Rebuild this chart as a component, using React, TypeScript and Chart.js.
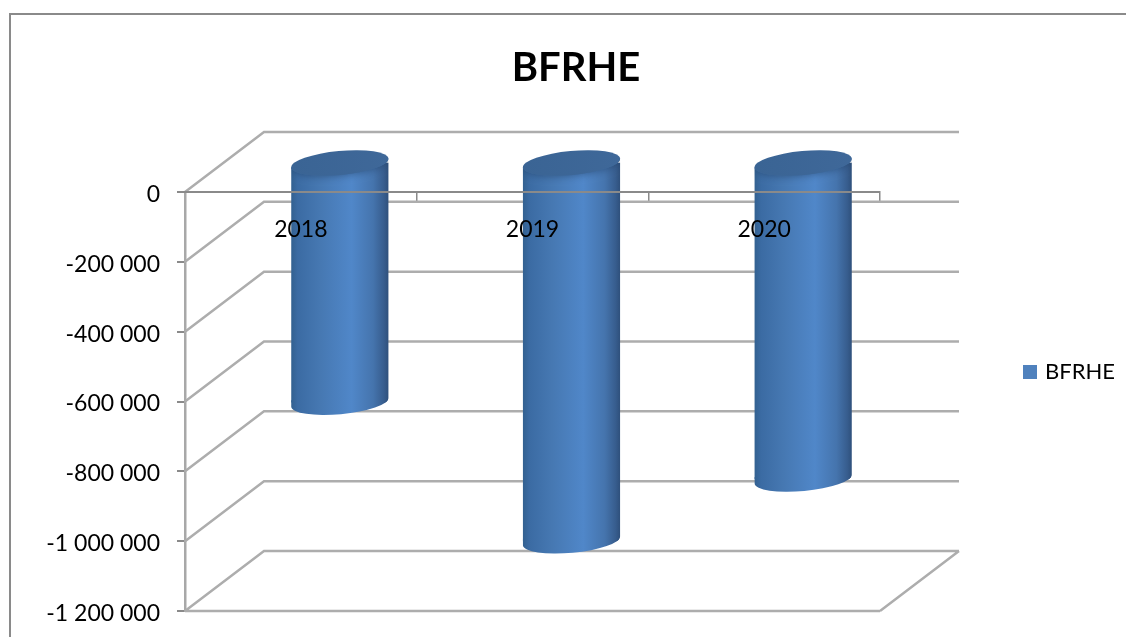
import React, { useEffect, useRef } from "react";
import { Chart, registerables } from "chart.js";

Chart.register(...registerables);

const categories = ["2018", "2019", "2020"];
const seriesName = "BFRHE";
const seriesValues = [-688000, -1085000, -908000];
const yMin = -1200000;
const yMax = 0;
const yStep = 200000;

const FONT = "Lato, 'Open Sans', sans-serif";
const TARGET = { left: 185, top: 192, right: 880, bottom: 611 };
const DEPTH_X = 79;
const DEPTH_Y = 60;
const BAR_SHIFT_X = 39;
const BAR_W = 98;
const CAP_A = 48.8;
const CAP_B = 12;
const CAP_TILT = (-5.3 * Math.PI) / 180;
const BASE = "#4f81bd";

function formatTick(v: number) {
  const s = String(Math.abs(v)).replace(/\B(?=(\d{3})+(?!\d))/g, " ");
  return (v < 0 ? "-" : "") + s;
}

function sideGradient(ctx: CanvasRenderingContext2D, cx: number) {
  const g = ctx.createLinearGradient(cx - BAR_W / 2, 0, cx + BAR_W / 2, 0);
  g.addColorStop(0, "#32608f");
  g.addColorStop(0.07, "#3b6ba3");
  g.addColorStop(0.3, "#4678b2");
  g.addColorStop(0.62, "#5087c9");
  g.addColorStop(0.84, "#4574ad");
  g.addColorStop(0.95, "#375d8e");
  g.addColorStop(1, "#2e4f7a");
  return g;
}

const cylinderPlugin = {
  id: "cylinder",
  afterLayout(chart: any) {
    const t = chart.titleBlock;
    if (t) {
      t.left = 276;
      t.right = 876;
      t.top = 68 - 24;
      t.bottom = t.top + 48;
    }
    const l = chart.legend;
    if (l) {
      l.left = 1016;
      l.right = 1126;
      l.top = 351;
      l.bottom = 400;
    }
  },
  beforeDraw(chart: any) {
    const { ctx, scales } = chart;
    scales.y.getLabelItems().forEach((item: any) => {
      item.textOffset = 2.5;
    });
    ctx.save();
    ctx.strokeStyle = "#8a8a8a";
    ctx.lineWidth = 2;
    ctx.beginPath();
    ctx.moveTo(10, 637);
    ctx.lineTo(10, 14);
    ctx.lineTo(1126, 14);
    ctx.stroke();
    ctx.restore();
  },
  beforeDatasetsDraw(chart: any) {
    const { ctx, chartArea: a, scales } = chart;
    ctx.save();
    ctx.strokeStyle = "#adadad";
    ctx.lineWidth = 2.5;
    ctx.beginPath();
    scales.y.ticks.forEach((t: any) => {
      const y = scales.y.getPixelForValue(t.value);
      ctx.moveTo(a.left, y);
      ctx.lineTo(a.left + DEPTH_X, y - DEPTH_Y);
      ctx.lineTo(a.right + DEPTH_X, y - DEPTH_Y);
    });
    ctx.moveTo(a.right, a.bottom);
    ctx.lineTo(a.right + DEPTH_X, a.bottom - DEPTH_Y);
    ctx.moveTo(a.left, a.bottom);
    ctx.lineTo(a.right, a.bottom);
    ctx.stroke();
    ctx.restore();
  },
  beforeDatasetDraw(chart: any, args: any) {
    const { ctx } = chart;
    const bars = args.meta.data;
    ctx.save();
    ctx.translate(BAR_SHIFT_X, -DEPTH_Y / 2);
    ctx.beginPath();
    bars.forEach((b: any) => {
      const dx = CAP_A * Math.cos(CAP_TILT);
      const dy = CAP_A * Math.sin(CAP_TILT);
      ctx.moveTo(b.x + dx, b.base + dy);
      ctx.lineTo(b.x + dx, b.y + dy);
      ctx.ellipse(b.x, b.y, CAP_A, CAP_B, CAP_TILT, 0, Math.PI);
      ctx.lineTo(b.x - dx, b.base - dy);
      ctx.closePath();
    });
    ctx.clip();
    bars.forEach((b: any) => {
      ctx.fillStyle = sideGradient(ctx, b.x);
      ctx.fillRect(b.x - BAR_W / 2, b.y - 2, BAR_W, 20);
    });
  },
  afterDatasetDraw(chart: any, args: any) {
    const { ctx } = chart;
    args.meta.data.forEach((b: any) => {
      ctx.save();
      ctx.shadowColor = "rgba(28,52,86,0.55)";
      ctx.shadowBlur = 9;
      ctx.fillStyle = "#3c6a9e";
      ctx.beginPath();
      ctx.ellipse(b.x, b.base, CAP_A, CAP_B, CAP_TILT, 0, Math.PI * 2);
      ctx.fill();
      ctx.restore();
    });
    ctx.restore();
    ctx.save();
    ctx.translate(BAR_SHIFT_X, -DEPTH_Y / 2);
    args.meta.data.forEach((b: any) => {
      const g = ctx.createLinearGradient(b.x - BAR_W / 2, 0, b.x + BAR_W / 2, 0);
      g.addColorStop(0, "#3a6494");
      g.addColorStop(1, "#3f6899");
      ctx.fillStyle = g;
      ctx.beginPath();
      ctx.ellipse(b.x, b.base, CAP_A, CAP_B, CAP_TILT, 0, Math.PI * 2);
      ctx.fill();
    });
    ctx.restore();
  },
};

export default function App() {
  const ref = useRef<HTMLCanvasElement>(null);
  useEffect(() => {
    const chart: any = new Chart(ref.current as any, {
      type: "bar",
      plugins: [cylinderPlugin],
      data: {
        labels: categories,
        datasets: [
          {
            label: seriesName,
            data: seriesValues,
            barThickness: BAR_W,
            clip: false,
            borderWidth: 0,
            backgroundColor: (c: any) => {
              const px = c.chart.scales.x.getPixelForValue(c.dataIndex);
              if (!Number.isFinite(px)) return BASE;
              return sideGradient(c.chart.ctx, px);
            },
          } as any,
        ],
      },
      options: {
        animation: false,
        responsive: false,
        layout: { padding: { left: 0, top: 100, right: 100, bottom: 26 } },
        plugins: {
          tooltip: { enabled: false },
          title: {
            display: true,
            text: "BFRHE",
            color: "#000000",
            padding: 0,
            font: { family: FONT, size: 40, weight: "bold", lineHeight: 1.2 },
          },
          legend: {
            display: true,
            position: "right",
            align: "start",
            labels: {
              color: "#000000",
              boxWidth: 8,
              boxHeight: 8,
              padding: 10,
              font: { family: FONT, size: 22 },
              generateLabels: (chart: any) =>
                Chart.defaults.plugins.legend.labels.generateLabels(chart).map((item: any) => ({
                  ...item,
                  fillStyle: BASE,
                  strokeStyle: BASE,
                  lineWidth: 6,
                })),
            },
          },
        },
        scales: {
          x: {
            position: { y: 0 },
            afterFit: (s: any) => {
              s.height = 0;
              s.paddingLeft = 0;
              s.paddingRight = 0;
            },
            ticks: {
              z: 1,
              color: "#000000",
              padding: 15,
              maxRotation: 0,
              font: { family: FONT, size: 23 },
            },
            grid: {
              drawOnChartArea: false,
              drawTicks: true,
              tickLength: 9,
              color: "#8a8a8a",
              lineWidth: 1.5,
            },
            border: { display: true, color: "#8a8a8a", width: 2, z: 1 },
          },
          y: {
            min: yMin,
            max: yMax,
            afterFit: (s: any) => {
              s.width = TARGET.left;
              s.paddingTop = 0;
              s.paddingBottom = 0;
            },
            ticks: {
              stepSize: yStep,
              color: "#000000",
              padding: 17,
              font: { family: FONT, size: 23 },
              callback: (v: any) => formatTick(Number(v)),
            },
            grid: {
              drawOnChartArea: false,
              drawTicks: true,
              tickLength: 8,
              color: "#8a8a8a",
              lineWidth: 2,
            },
            border: { display: true, color: "#a8a8a8", width: 2.5 },
          },
        },
      } as any,
    });
    for (let i = 0; i < 6; i++) {
      const a = chart.chartArea;
      const p = chart.options.layout.padding;
      chart.options.layout.padding = {
        left: p.left + (TARGET.left - a.left),
        top: p.top + (TARGET.top - a.top),
        right: p.right + (a.right - TARGET.right),
        bottom: p.bottom + (a.bottom - TARGET.bottom),
      };
      chart.update();
    }
    return () => chart.destroy();
  }, []);
  return (
    <div style={{ position: "absolute", left: 0, top: 0, width: 1126, height: 637, background: "#fff" }}>
      <canvas ref={ref} width={1126} height={637} style={{ display: "block" }} />
    </div>
  );
}
